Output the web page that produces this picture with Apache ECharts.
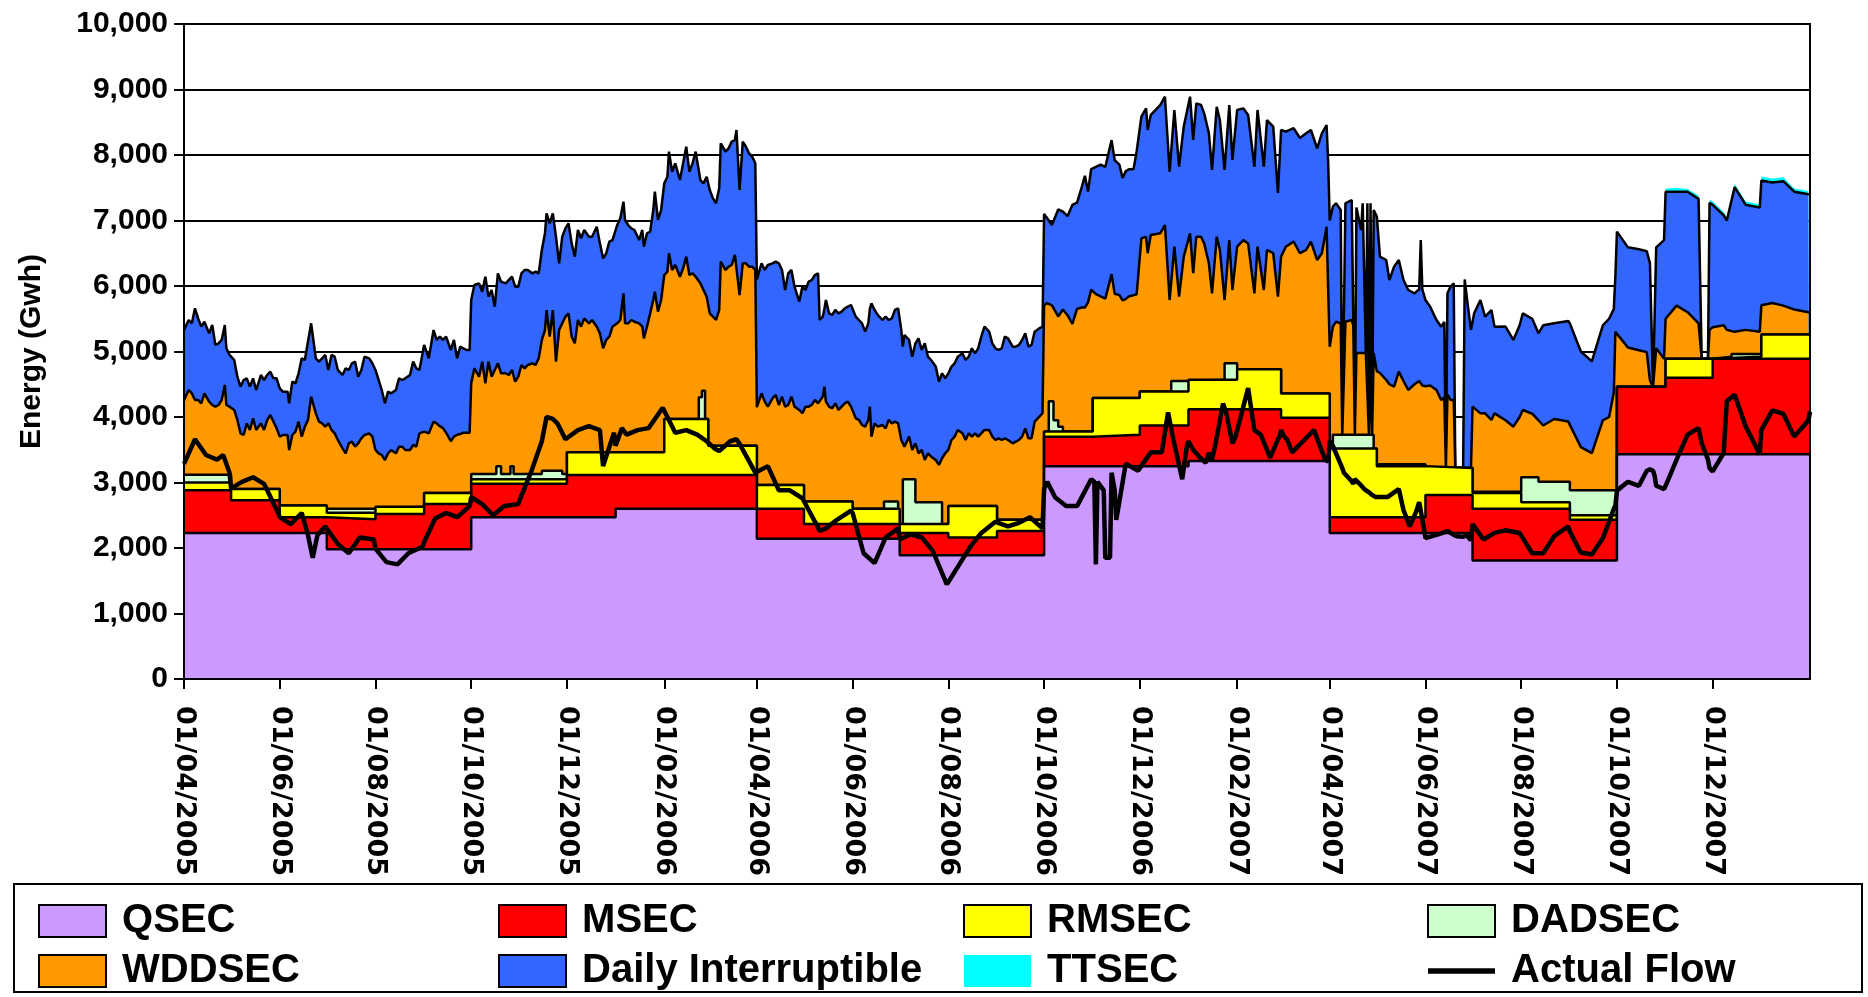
<!DOCTYPE html>
<html>
<head>
<meta charset="utf-8">
<title>Energy (Gwh)</title>
<script src="https://cdn.jsdelivr.net/npm/echarts@6.0.0/dist/echarts.min.js"></script>
<style>
  html, body { margin: 0; padding: 0; background: #fff; }
  #chart { width: 1868px; height: 997px; }
</style>
</head>
<body>
<div id="chart"></div>
<script>
// tick labels on the date axis, one every second month
const xTickLabels = ['01/04/2005', '01/06/2005', '01/08/2005', '01/10/2005', '01/12/2005',
  '01/02/2006', '01/04/2006', '01/06/2006', '01/08/2006', '01/10/2006', '01/12/2006',
  '01/02/2007', '01/04/2007', '01/06/2007', '01/08/2007', '01/10/2007', '01/12/2007'];

// all values below are the top edge of each band (Gwh)

// stepped bands: [date the level starts, level]
const qsecTop = [['2005-04-01', 2230], ['2005-07-01', 1980], ['2005-10-01', 2470], ['2006-01-01', 2600],
  ['2006-04-01', 2140], ['2006-07-01', 1890], ['2006-10-01', 3250], ['2007-01-01', 3330],
  ['2007-04-01', 2230], ['2007-07-01', 1810], ['2007-10-01', 3430], ['2008-02-01', 3430]];

const msecTop = [['2005-04-01', 2880], ['2005-05-01', 2730], ['2005-06-01', 2470], ['2005-07-01', 2440],
  ['2005-08-01', 2520], ['2005-09-01', 2670], ['2005-10-01', 2980], ['2005-12-01', 3115],
  ['2006-04-01', 2600], ['2006-05-01', 2365], ['2006-07-01', 2230], ['2006-08-01', 2160],
  ['2006-09-01', 2260], ['2006-10-01', 3700], ['2006-11-01', 3730], ['2006-12-01', 3870],
  ['2007-01-01', 4120], ['2007-03-01', 3990], ['2007-04-01', 2470], ['2007-06-01', 2810],
  ['2007-07-01', 2600], ['2007-09-01', 2430], ['2007-10-01', 4460], ['2007-11-01', 4600],
  ['2007-12-01', 4890], ['2008-02-01', 4890]];

const rmsecTop = [['2005-04-01', 3000], ['2005-05-01', 2900], ['2005-06-01', 2650], ['2005-07-01', 2540],
  ['2005-08-01', 2630], ['2005-09-01', 2840], ['2005-10-01', 3050], ['2005-12-01', 3460],
  ['2006-02-01', 3970], ['2006-03-01', 3560], ['2006-04-01', 2960], ['2006-05-01', 2710],
  ['2006-06-01', 2600], ['2006-07-01', 2365], ['2006-08-01', 2640], ['2006-09-01', 2430],
  ['2006-10-01', 3780], ['2006-11-01', 4290], ['2006-12-01', 4390], ['2007-01-01', 4570],
  ['2007-02-01', 4730], ['2007-03-01', 4360], ['2007-04-01', 3520], ['2007-05-01', 3250],
  ['2007-06-01', 3220], ['2007-07-01', 2840], ['2007-08-01', 2700], ['2007-09-01', 2500],
  ['2007-10-01', 4460], ['2007-11-01', 4890], ['2007-12-01', 4920], ['2008-01-01', 5260],
  ['2008-02-01', 5260]];

const dadsecTop = [['2005-04-01', 3120], ['2005-05-01', 2900], ['2005-06-01', 2650], ['2005-07-01', 2600],
  ['2005-08-01', 2630], ['2005-09-01', 2840], ['2005-10-01', 3130], ['2005-10-17', 3250],
  ['2005-10-20', 3130], ['2005-10-26', 3250], ['2005-10-28', 3130], ['2005-11-15', 3180],
  ['2005-11-28', 3130], ['2005-12-01', 3460], ['2006-02-01', 3970], ['2006-02-23', 4300],
  ['2006-02-25', 4400], ['2006-02-27', 3970], ['2006-03-01', 3560], ['2006-04-01', 2960],
  ['2006-05-01', 2710], ['2006-06-01', 2600], ['2006-06-21', 2710], ['2006-06-30', 2600],
  ['2006-07-01', 2365], ['2006-07-03', 3050], ['2006-07-11', 2700], ['2006-07-28', 2365],
  ['2006-08-01', 2640], ['2006-09-01', 2430], ['2006-10-01', 3780], ['2006-10-04', 4240],
  ['2006-10-07', 3950], ['2006-10-10', 3850], ['2006-10-13', 3780], ['2006-11-01', 4290],
  ['2006-12-01', 4390], ['2006-12-21', 4550], ['2007-01-01', 4570], ['2007-01-24', 4820],
  ['2007-02-01', 4730], ['2007-03-01', 4360], ['2007-04-01', 3520], ['2007-04-03', 3730],
  ['2007-04-29', 3520], ['2007-05-01', 3280], ['2007-06-01', 3220], ['2007-07-01', 2860],
  ['2007-08-01', 3080], ['2007-08-12', 3010], ['2007-09-01', 2880], ['2007-10-01', 4460],
  ['2007-11-01', 4890], ['2007-12-01', 4920], ['2007-12-13', 4960], ['2008-01-01', 5260],
  ['2008-02-01', 5260]];

// WDDSEC and Daily Interruptible tops, sampled on these dates (one line per month)
const bandDays = [
  '2005-04-01','2005-04-02','2005-04-04','2005-04-06','2005-04-08','2005-04-10','2005-04-12','2005-04-14','2005-04-17','2005-04-19','2005-04-21','2005-04-23','2005-04-25','2005-04-27','2005-04-28','2005-04-30',
  '2005-05-03','2005-05-05','2005-05-07','2005-05-09','2005-05-11','2005-05-13','2005-05-15','2005-05-17','2005-05-20','2005-05-22','2005-05-24','2005-05-26','2005-05-28','2005-05-30',
  '2005-06-01','2005-06-03','2005-06-06','2005-06-07','2005-06-09','2005-06-11','2005-06-13','2005-06-15','2005-06-17','2005-06-19','2005-06-21','2005-06-24','2005-06-26','2005-06-28','2005-06-30',
  '2005-07-02','2005-07-04','2005-07-06','2005-07-08','2005-07-11','2005-07-13','2005-07-15','2005-07-17','2005-07-19','2005-07-21','2005-07-23','2005-07-25','2005-07-28','2005-07-30',
  '2005-08-01','2005-08-03','2005-08-05','2005-08-07','2005-08-09','2005-08-11','2005-08-14','2005-08-16','2005-08-18','2005-08-20','2005-08-23','2005-08-25','2005-08-27','2005-08-29',
  '2005-09-01','2005-09-04','2005-09-07','2005-09-09','2005-09-11','2005-09-13','2005-09-15','2005-09-18','2005-09-20','2005-09-22','2005-09-24','2005-09-26','2005-09-28','2005-09-30',
  '2005-10-01','2005-10-03','2005-10-06','2005-10-08','2005-10-10','2005-10-12','2005-10-14','2005-10-16','2005-10-18','2005-10-20','2005-10-23','2005-10-25','2005-10-27','2005-10-29','2005-10-31',
  '2005-11-02','2005-11-04','2005-11-06','2005-11-09','2005-11-11','2005-11-13','2005-11-15','2005-11-17','2005-11-18','2005-11-20','2005-11-22','2005-11-24','2005-11-26','2005-11-28','2005-11-30',
  '2005-12-02','2005-12-04','2005-12-06','2005-12-08','2005-12-10','2005-12-12','2005-12-15','2005-12-17','2005-12-20','2005-12-22','2005-12-24','2005-12-26','2005-12-28','2005-12-30',
  '2006-01-02','2006-01-04','2006-01-06','2006-01-07','2006-01-09','2006-01-11','2006-01-13','2006-01-16','2006-01-18','2006-01-19','2006-01-21','2006-01-23','2006-01-25','2006-01-26','2006-01-28','2006-01-30',
  '2006-02-01','2006-02-03','2006-02-04','2006-02-06','2006-02-08','2006-02-11','2006-02-13','2006-02-15','2006-02-17','2006-02-19','2006-02-21','2006-02-24','2006-02-26','2006-02-28',
  '2006-03-02','2006-03-04','2006-03-06','2006-03-08','2006-03-09','2006-03-12','2006-03-14','2006-03-16','2006-03-18','2006-03-19','2006-03-21','2006-03-23','2006-03-25','2006-03-27','2006-03-29','2006-03-31',
  '2006-04-01','2006-04-02','2006-04-04','2006-04-06','2006-04-08','2006-04-11','2006-04-13','2006-04-15','2006-04-17','2006-04-19','2006-04-21','2006-04-23','2006-04-25','2006-04-28','2006-04-30',
  '2006-05-02','2006-05-04','2006-05-06','2006-05-08','2006-05-10','2006-05-11','2006-05-13','2006-05-14','2006-05-15','2006-05-17','2006-05-19','2006-05-21','2006-05-23','2006-05-25','2006-05-27','2006-05-29','2006-05-31',
  '2006-06-03','2006-06-05','2006-06-07','2006-06-09','2006-06-11','2006-06-12','2006-06-13','2006-06-15','2006-06-17','2006-06-20','2006-06-22','2006-06-24','2006-06-26','2006-06-28','2006-06-30',
  '2006-07-02','2006-07-03','2006-07-04','2006-07-07','2006-07-09','2006-07-11','2006-07-13','2006-07-15','2006-07-17','2006-07-19','2006-07-21','2006-07-24','2006-07-26','2006-07-28','2006-07-30',
  '2006-08-01','2006-08-03','2006-08-05','2006-08-07','2006-08-10','2006-08-12','2006-08-14','2006-08-16','2006-08-18','2006-08-20','2006-08-22','2006-08-24','2006-08-27','2006-08-29','2006-08-31',
  '2006-09-02','2006-09-04','2006-09-06','2006-09-08','2006-09-11','2006-09-13','2006-09-15','2006-09-17','2006-09-19','2006-09-21','2006-09-23','2006-09-25','2006-09-28','2006-09-30',
  '2006-10-01','2006-10-03','2006-10-06','2006-10-10','2006-10-13','2006-10-16','2006-10-19','2006-10-22','2006-10-25','2006-10-27','2006-10-29','2006-10-31',
  '2006-11-03','2006-11-06','2006-11-09','2006-11-13','2006-11-15','2006-11-18','2006-11-20','2006-11-22','2006-11-24','2006-11-27','2006-11-29',
  '2006-12-02','2006-12-05','2006-12-06','2006-12-08','2006-12-14','2006-12-17','2006-12-20','2006-12-23','2006-12-26','2006-12-29',
  '2007-01-02','2007-01-04','2007-01-06','2007-01-09','2007-01-11','2007-01-14','2007-01-16','2007-01-19','2007-01-21','2007-01-24','2007-01-27','2007-01-29',
  '2007-02-01','2007-02-05','2007-02-08','2007-02-12','2007-02-14','2007-02-18','2007-02-20','2007-02-24','2007-02-27',
  '2007-03-01','2007-03-04','2007-03-09','2007-03-13','2007-03-17','2007-03-20','2007-03-24','2007-03-27','2007-03-30','2007-03-31',
  '2007-04-01','2007-04-03','2007-04-05','2007-04-08','2007-04-09','2007-04-10','2007-04-11','2007-04-15','2007-04-16','2007-04-17','2007-04-18','2007-04-21','2007-04-22','2007-04-24','2007-04-25','2007-04-26','2007-04-27','2007-04-28','2007-04-29',
  '2007-05-01','2007-05-03','2007-05-07','2007-05-09','2007-05-12','2007-05-15','2007-05-18','2007-05-21','2007-05-25','2007-05-28','2007-05-29','2007-05-30',
  '2007-06-01','2007-06-04','2007-06-08','2007-06-11','2007-06-13','2007-06-14','2007-06-15','2007-06-17','2007-06-19','2007-06-20','2007-06-25','2007-06-26','2007-06-28','2007-06-30',
  '2007-07-01','2007-07-02','2007-07-06','2007-07-09','2007-07-13','2007-07-15','2007-07-22','2007-07-27','2007-07-31',
  '2007-08-02','2007-08-08','2007-08-12','2007-08-15','2007-08-22','2007-08-31',
  '2007-09-01','2007-09-08','2007-09-15','2007-09-22','2007-09-26','2007-09-29','2007-09-30',
  '2007-10-01','2007-10-08','2007-10-15','2007-10-20','2007-10-22','2007-10-24','2007-10-25','2007-10-26','2007-10-31',
  '2007-11-01','2007-11-08','2007-11-15','2007-11-22','2007-11-23','2007-11-24','2007-11-28','2007-11-29','2007-11-30',
  '2007-12-01','2007-12-08','2007-12-10','2007-12-15','2007-12-22','2007-12-31',
  '2008-01-01','2008-01-08','2008-01-15','2008-01-22','2008-01-31',
  '2008-02-01'
];

const interruptibleTop = [
  5330, 5328, 5481, 5430, 5659, 5506, 5379, 5455, 5277, 5405, 5099, 5125, 5176, 5405, 5049, 4947,
  4870, 4616, 4463, 4565, 4590, 4463, 4590, 4412, 4641, 4565, 4641, 4692, 4590, 4590,
  4438, 4387, 4387, 4209, 4540, 4514, 4667, 4896, 4870, 5150, 5430, 4896, 4845, 4896, 4947,
  4718, 4947, 4921, 4718, 4641, 4743, 4718, 4820, 4845, 4616, 4718, 4921, 4896, 4820,
  4718, 4565, 4412, 4209, 4387, 4361, 4412, 4590, 4565, 4590, 4641, 4845, 4743, 4718,
  5099, 4896, 5328, 5176, 5226, 5176, 5226, 5023, 5176, 4896, 5074, 5049, 5023, 5023,
  5786, 6015, 6041, 5913, 6142, 5837, 5939, 5684, 6193, 6066, 6041, 6092, 6142, 5990, 5990,
  6193, 6244, 6244, 6193, 6219, 6193, 6550, 6804, 7109, 6957, 7109, 6753, 6346, 6753, 6880,
  6957, 6651, 6448, 6855, 6728, 6855, 6753, 6753, 6906, 6651, 6422, 6499, 6677, 6702,
  6931, 7033, 7287, 7008, 6931, 6880, 6855, 6702, 6855, 6600, 6804, 6830, 7160, 7440, 7008, 7160,
  7567, 7669, 8051, 7745, 7873, 7618, 7873, 8127, 7745, 7873, 8051, 7618, 7567, 7669,
  7466, 7338, 7262, 7491, 8178, 8051, 8102, 8204, 8229, 8382, 7466, 8204, 8127, 8025, 7975, 7873,
  6100, 6117, 6346, 6245, 6321, 6346, 6372, 6346, 6245, 5939, 6194, 6245, 5990, 5761, 5990,
  5939, 6066, 6092, 6168, 6194, 5481, 5532, 5650, 5787, 5583, 5558, 5634, 5583, 5608, 5659, 5685, 5710,
  5532, 5481, 5430, 5303, 5430, 5650, 5736, 5634, 5558, 5481, 5532, 5481, 5507, 5634, 5659,
  5329, 5074, 5252, 5176, 4921, 5125, 5201, 5023, 5125, 4921, 4870, 4769, 4540, 4667, 4591,
  4667, 4769, 4820, 4921, 4972, 4870, 4921, 5049, 4972, 5049, 5227, 5380, 5303, 5125, 5049,
  5023, 5049, 5227, 5201, 5074, 5074, 5100, 5176, 5278, 5074, 5100, 5303, 5354, 5380,
  7100, 7034, 6932, 7170, 7136, 7068, 7238, 7273, 7511, 7682, 7443, 7784,
  7818, 7852, 7818, 8227, 7920, 7852, 7648, 7750, 7784, 7784, 8057,
  8585, 8712, 8382, 8611, 8763, 8890, 7745, 8687, 7821, 8435,
  8890, 8230, 8788, 8763, 8636, 8331, 7771, 8737, 8534, 7771, 8763, 7924,
  8687, 8712, 8611, 7821, 8687, 7821, 8534, 8432, 7420,
  8382, 8356, 8410, 8260, 8331, 8382, 8100, 8331, 8458, 7900,
  7000, 7211, 7262, 7160, 3730, 3730, 7262, 7313, 7300, 3730, 7200, 6855, 7262, 4977, 7262, 3730, 7262, 3730, 7160,
  7059, 6448, 6397, 6092, 6295, 6397, 6092, 5939, 5888, 5950, 6702, 5950,
  5786, 5684, 5481, 5379, 5450, 3220, 5888, 5990, 6040, 3220, 3220, 6100, 5700, 5330,
  5330, 5582, 5786, 5531, 5633, 5379, 5380, 5176, 5400,
  5582, 5500, 5278, 5400, 5430, 5466,
  5430, 5000, 4850, 5400, 5500, 5650, 6150,
  6830, 6590, 6560, 6530, 6350, 4460, 4460, 6590, 6700,
  7440, 7440, 7440, 7330, 7300, 4890, 4890, 7270, 7270,
  7240, 7080, 7000, 7510, 7240, 7200,
  7610, 7580, 7600, 7440, 7400,
  7400
];

const wddsecTop = [
  4250, 4310, 4412, 4361, 4260, 4260, 4209, 4361, 4234, 4183, 4158, 4183, 4260, 4489, 4183, 4158,
  4107, 3954, 3751, 3725, 3904, 3802, 3980, 3802, 3904, 3802, 3954, 4031, 3929, 3827,
  3700, 3725, 3725, 3496, 3725, 3776, 3929, 3700, 3853, 3954, 4310, 4056, 3929, 3904, 3853,
  3904, 3802, 3751, 3649, 3522, 3445, 3598, 3624, 3547, 3598, 3674, 3725, 3751, 3700,
  3496, 3445, 3420, 3344, 3445, 3496, 3445, 3547, 3547, 3496, 3496, 3573, 3547, 3751,
  3776, 3751, 3929, 3900, 3860, 3830, 3760, 3630, 3700, 3730, 3740, 3760, 3760, 3760,
  4514, 4743, 4616, 4845, 4514, 4845, 4616, 4718, 4819, 4667, 4667, 4641, 4718, 4540, 4616,
  4794, 4743, 4794, 4819, 4794, 4896, 5176, 5328, 5633, 5226, 5633, 4845, 5328, 5430, 5531,
  5582, 5226, 5125, 5481, 5379, 5506, 5430, 5481, 5379, 5277, 5049, 5176, 5226, 5379,
  5430, 5481, 5888, 5430, 5430, 5481, 5455, 5430, 5379, 5201, 5379, 5582, 5786, 5913, 5608, 5786,
  6168, 6219, 6499, 6244, 6321, 6142, 6270, 6448, 6168, 6193, 6142, 6041, 5939, 5837,
  5582, 5531, 5481, 5633, 6372, 6244, 6295, 6321, 6474, 6499, 5862, 6346, 6346, 6295, 6295, 6244,
  4150, 4158, 4362, 4235, 4158, 4286, 4337, 4184, 4311, 4158, 4184, 4311, 4158, 4108, 4057,
  4158, 4158, 4184, 4260, 4209, 4209, 4311, 4464, 4235, 4158, 4133, 4209, 4108, 4158, 4209, 4235, 4158,
  3980, 3955, 3878, 3853, 3955, 4158, 3700, 3904, 3853, 3878, 3827, 3955, 3904, 3929, 3904,
  3649, 3600, 3548, 3700, 3497, 3598, 3446, 3497, 3344, 3446, 3395, 3344, 3268, 3370, 3446,
  3497, 3649, 3700, 3802, 3751, 3649, 3751, 3700, 3751, 3700, 3751, 3802, 3802, 3700, 3649,
  3675, 3649, 3675, 3649, 3598, 3624, 3649, 3700, 3827, 3675, 3675, 3929, 4006, 4057,
  5705, 5739, 5705, 5535, 5640, 5550, 5420, 5650, 5671, 5671, 5750, 5944,
  5875, 5841, 5807, 6182, 5880, 5860, 5780, 5800, 5841, 5860, 5875,
  6728, 6750, 6500, 6780, 6805, 6931, 5786, 6600, 5837, 6448,
  6805, 6195, 6753, 6753, 6650, 6347, 5888, 6753, 6550, 5786, 6702, 5939,
  6600, 6700, 6650, 5888, 6600, 5939, 6550, 6500, 5837,
  6448, 6600, 6677, 6500, 6550, 6677, 6397, 6500, 6906, 5950,
  5073, 5379, 5455, 5430, 3730, 3730, 5455, 5481, 5400, 3730, 4977, 4977, 4977, 4977, 4977, 3730, 4977, 3730, 4977,
  4700, 4672, 4565, 4500, 4463, 4692, 4550, 4412, 4500, 4550, 4550, 4480,
  4470, 4480, 4412, 4260, 4300, 3220, 4340, 4260, 4260, 3220, 3220, 3220, 3220, 3220,
  4158, 4158, 4056, 4056, 3954, 4056, 3950, 3852, 4000,
  4107, 4050, 3950, 3870, 3970, 3930,
  3880, 3540, 3450, 3950, 4000, 4375, 5300,
  5330, 5060, 5020, 4990, 4560, 4460, 4460, 5050, 4890,
  5500, 5700, 5600, 5430, 5400, 4890, 4890, 5330, 5330,
  5370, 5400, 5330, 5300, 5330, 5300,
  5705, 5740, 5700, 5640, 5600,
  5600
];

// actual flow, sampled on these dates (one line per month)
const flowDays = [
  '2005-04-01','2005-04-08','2005-04-15','2005-04-22','2005-04-26','2005-04-30',
  '2005-05-01','2005-05-08','2005-05-15','2005-05-22','2005-05-31',
  '2005-06-01','2005-06-08','2005-06-15','2005-06-19','2005-06-22','2005-06-25','2005-06-30',
  '2005-07-01','2005-07-08','2005-07-15','2005-07-22','2005-07-31',
  '2005-08-01','2005-08-08','2005-08-15','2005-08-22','2005-08-31',
  '2005-09-01','2005-09-08','2005-09-15','2005-09-22','2005-09-30',
  '2005-10-01','2005-10-08','2005-10-15','2005-10-22','2005-10-31',
  '2005-11-01','2005-11-08','2005-11-15','2005-11-18','2005-11-22','2005-11-25','2005-11-30',
  '2005-12-01','2005-12-08','2005-12-15','2005-12-22','2005-12-24','2005-12-31',
  '2006-01-01','2006-01-05','2006-01-08','2006-01-15','2006-01-22','2006-01-31',
  '2006-02-01','2006-02-08','2006-02-15','2006-02-22','2006-02-28',
  '2006-03-01','2006-03-05','2006-03-08','2006-03-15','2006-03-19','2006-03-21','2006-03-22','2006-03-31',
  '2006-04-01','2006-04-08','2006-04-15','2006-04-22','2006-04-30',
  '2006-05-01','2006-05-08','2006-05-09','2006-05-11','2006-05-15','2006-05-22','2006-05-31',
  '2006-06-01','2006-06-08','2006-06-15','2006-06-22','2006-06-30',
  '2006-07-01','2006-07-08','2006-07-15','2006-07-22','2006-07-31',
  '2006-08-01','2006-08-08','2006-08-15','2006-08-22','2006-08-31',
  '2006-09-01','2006-09-08','2006-09-15','2006-09-22','2006-09-30',
  '2006-10-01','2006-10-03','2006-10-08','2006-10-15','2006-10-22','2006-10-31',
  '2006-11-01','2006-11-02','2006-11-03','2006-11-04','2006-11-08','2006-11-09','2006-11-12','2006-11-13','2006-11-15','2006-11-16','2006-11-22','2006-11-30',
  '2006-12-01','2006-12-08','2006-12-15','2006-12-19','2006-12-22','2006-12-28','2006-12-31',
  '2007-01-01','2007-01-04','2007-01-08','2007-01-12','2007-01-14','2007-01-16','2007-01-18','2007-01-23','2007-01-25','2007-01-29','2007-01-31',
  '2007-02-01','2007-02-08','2007-02-12','2007-02-16','2007-02-19','2007-02-22','2007-02-27','2007-02-28',
  '2007-03-01','2007-03-03','2007-03-05','2007-03-08','2007-03-15','2007-03-22','2007-03-29','2007-03-31',
  '2007-04-01','2007-04-03','2007-04-09','2007-04-10','2007-04-11','2007-04-15','2007-04-16','2007-04-17','2007-04-20','2007-04-21','2007-04-23','2007-04-24','2007-04-26','2007-04-27','2007-04-28','2007-04-30',
  '2007-05-01','2007-05-08','2007-05-15','2007-05-18','2007-05-22','2007-05-26','2007-05-28','2007-05-31',
  '2007-06-01','2007-06-08','2007-06-12','2007-06-15','2007-06-16','2007-06-17','2007-06-19','2007-06-20','2007-06-21','2007-06-25','2007-06-26','2007-06-27','2007-06-28','2007-06-30',
  '2007-07-01','2007-07-08','2007-07-15','2007-07-22','2007-07-31',
  '2007-08-01','2007-08-08','2007-08-15','2007-08-22','2007-08-31',
  '2007-09-01','2007-09-08','2007-09-15','2007-09-22','2007-09-26','2007-09-29','2007-09-30',
  '2007-10-01','2007-10-08','2007-10-15','2007-10-20','2007-10-22','2007-10-24','2007-10-25','2007-10-26','2007-10-31',
  '2007-11-01','2007-11-08','2007-11-15','2007-11-22','2007-11-23','2007-11-24','2007-11-28','2007-11-29','2007-11-30',
  '2007-12-01','2007-12-08','2007-12-10','2007-12-15','2007-12-22','2007-12-31',
  '2008-01-01','2008-01-08','2008-01-15','2008-01-22','2008-01-31',
  '2008-02-01'
];

const actualFlow = [
  3285, 3660, 3420, 3350, 3420, 3150,
  2910, 3010, 3080, 2980, 2535,
  2470, 2365, 2535, 2195, 1850, 2195, 2330,
  2300, 2060, 1920, 2160, 2130,
  1990, 1785, 1750, 1920, 2020,
  2090, 2450, 2535, 2470, 2640,
  2775, 2670, 2500, 2640, 2670,
  2740, 3150, 3630, 4000, 3970, 3900, 3660,
  3660, 3800, 3860, 3800, 3250, 3760,
  3560, 3830, 3730, 3800, 3830, 4140,
  4170, 3760, 3800, 3730, 3630,
  3630, 3520, 3480, 3630, 3660, 3590, 3560, 3150,
  3150, 3250, 2880, 2880, 2760,
  2775, 2400, 2365, 2260, 2300, 2430, 2570,
  2535, 1920, 1770, 2160, 2300,
  2130, 2210, 2160, 1960, 1445,
  1480, 1750, 2020, 2230, 2400,
  2400, 2330, 2385, 2470, 2300,
  2900, 3010, 2775, 2640, 2640, 3050,
  3080, 3010, 1750, 3010, 2880, 1850, 1850, 3150, 2880, 2430, 3285, 3180,
  3220, 3460, 3460, 4070, 3700, 3050, 3560,
  3630, 3500, 3390, 3300, 3450, 3350, 3560, 4205, 4070, 3600, 3700,
  3730, 4440, 3800, 3730, 3560, 3380, 3660, 3700,
  3800, 3700, 3650, 3460, 3630, 3800, 3350, 3320,
  3630, 3560, 3220, 3150, 3150, 3020, 2980, 3050, 2980, 2950, 2900, 2880, 2850, 2840, 2810, 2780,
  2800, 2780, 2900, 2580, 2330, 2550, 2700, 2300,
  2150, 2200, 2230, 2260, 2250, 2230, 2200, 2180, 2180, 2170, 2200, 2200, 2180, 2120,
  2365, 2130, 2230, 2270, 2230,
  2200, 1920, 1920, 2180, 2330,
  2250, 1930, 1900, 2150, 2400, 2600, 2650,
  2876, 3010, 2950, 3180, 3200, 3180, 3100, 2950, 2900,
  2950, 3350, 3730, 3830, 3830, 3600, 3350, 3220, 3220,
  3170, 3450, 4240, 4340, 3860, 3430,
  3800, 4100, 4050, 3700, 3950,
  4080
];

// TTSEC only shows above the interruptible band from November 2007
const ttsecDays = ['2007-11-01','2007-11-08','2007-11-15','2007-11-22','2007-11-23','2007-11-24','2007-11-28',
  '2007-11-29','2007-11-30','2007-12-01','2007-12-08','2007-12-10','2007-12-15','2007-12-22','2007-12-31',
  '2008-01-01','2008-01-08','2008-01-15','2008-01-22','2008-01-31','2008-02-01'];
const ttsecTop = [7490, 7500, 7480, 7380, 7350, 4890, 4890, 7320, 7330, 7290, 7130, 7050, 7560, 7290, 7250,
  7670, 7640, 7660, 7490, 7450, 7450];

const colors = {
  'QSEC': '#CC99FF',
  'MSEC': '#FF0000',
  'RMSEC': '#FFFF00',
  'DADSEC': '#CCFFCC',
  'WDDSEC': '#FF9900',
  'Daily Interruptible': '#3366FF',
  'TTSEC': '#00FFFF'
};

function pad(n) { return n < 10 ? '0' + n : '' + n; }
// 'YYYY-MM-DD' -> local timestamp
function isoToTime(s) {
  const p = s.split('-');
  return new Date(+p[0], +p[1] - 1, +p[2]).getTime();
}
// 'DD/MM/YYYY' -> local timestamp
function labelToTime(s) {
  const p = s.split('/');
  return new Date(+p[2], +p[1] - 1, +p[0]).getTime();
}
const tickTimes = xTickLabels.map(labelToTime);

function withDays(dates, values) {
  return dates.map((d, i) => [isoToTime(d), values[i]]);
}
function steps(pairs) {
  return pairs.map(p => [isoToTime(p[0]), p[1]]);
}

function band(name, data, z, stepped, lineWidth) {
  return {
    name: name,
    type: 'line',
    data: data,
    z: z,
    step: stepped ? 'end' : false,
    symbol: 'none',
    showSymbol: false,
    silent: true,
    lineStyle: { color: '#000', width: lineWidth, opacity: lineWidth ? 1 : 0 },
    areaStyle: { color: colors[name], opacity: 1 },
    itemStyle: { color: colors[name] }
  };
}

const legendText = {
  fontFamily: "'Liberation Sans', Arial, sans-serif",
  fontWeight: 'bold',
  fontSize: 40,
  lineHeight: 40,
  color: '#000'
};

function legendItem(name) {
  if (name === 'Actual Flow') {
    return { name: name, icon: 'path://M0,0H60V5H0Z', itemStyle: { color: '#000', borderWidth: 0 } };
  }
  return {
    name: name,
    icon: 'rect',
    itemStyle: { color: colors[name], borderColor: '#000', borderWidth: name === 'TTSEC' ? 0 : 2 }
  };
}

function legendColumn(names, left) {
  return {
    orient: 'vertical',
    left: left,
    top: 901,
    height: 150,
    itemWidth: 67,
    itemHeight: 32,
    itemGap: 10,
    padding: 0,
    selectedMode: false,
    formatter: (n) => ' ' + n,
    textStyle: legendText,
    data: names.map(legendItem)
  };
}

const chart = echarts.init(document.getElementById('chart'), null, { renderer: 'canvas' });

const option = {
  animation: false,
  backgroundColor: '#fff',
  grid: { left: 184, top: 24, width: 1626, height: 655, outerBoundsMode: 'none' },
  xAxis: {
    type: 'value',
    min: isoToTime('2005-04-01'),
    max: isoToTime('2008-02-01'),
    axisLine: { show: true, lineStyle: { color: '#000', width: 2 } },
    axisTick: { show: true, customValues: tickTimes, length: 10, lineStyle: { color: '#000', width: 2 } },
    splitLine: { show: false },
    axisLabel: {
      customValues: tickTimes,
      rotate: -90,
      margin: 27,
      color: '#000',
      fontFamily: "'DejaVu Sans', sans-serif",
      fontWeight: 'bold',
      fontSize: 27,
      formatter: function (v) {
        const d = new Date(v);
        return pad(d.getDate()) + '/' + pad(d.getMonth() + 1) + '/' + d.getFullYear();
      }
    }
  },
  yAxis: {
    type: 'value',
    min: 0,
    max: 10000,
    interval: 1000,
    name: 'Energy (Gwh)',
    nameLocation: 'middle',
    nameRotate: 90,
    nameGap: 137,
    nameTextStyle: { fontFamily: "'Liberation Sans', Arial, sans-serif", fontWeight: 'bold', fontSize: 30, color: '#000' },
    axisLine: { show: true, lineStyle: { color: '#000', width: 2 } },
    axisTick: { show: true, length: 10, lineStyle: { color: '#000', width: 2 } },
    splitLine: { show: true, lineStyle: { color: '#000', width: 2 } },
    axisLabel: {
      margin: 16,
      color: '#000',
      fontFamily: "'Liberation Sans', Arial, sans-serif",
      fontWeight: 'bold',
      fontSize: 30,
      formatter: (v) => String(v).replace(/\B(?=(\d{3})+(?!\d))/g, ',')
    }
  },
  legend: [
    legendColumn(['QSEC', 'WDDSEC'], 38),
    legendColumn(['MSEC', 'Daily Interruptible'], 498),
    legendColumn(['RMSEC', 'TTSEC'], 963),
    legendColumn(['DADSEC', 'Actual Flow'], 1427)
  ],
  graphic: [
    { type: 'rect', z: 100, silent: true, shape: { x: 184, y: 24, width: 1626, height: 655 },
      style: { fill: 'none', stroke: '#000', lineWidth: 2 } },
    { type: 'rect', z: 100, silent: true, shape: { x: 14, y: 884, width: 1848, height: 108 },
      style: { fill: 'none', stroke: '#000', lineWidth: 2 } }
  ],
  series: [
    band('QSEC', steps(qsecTop), 8, true, 2.5),
    band('MSEC', steps(msecTop), 7, true, 2.5),
    band('RMSEC', steps(rmsecTop), 6, true, 2.5),
    band('DADSEC', steps(dadsecTop), 5, true, 2.5),
    band('WDDSEC', withDays(bandDays, wddsecTop), 4, false, 2.5),
    band('Daily Interruptible', withDays(bandDays, interruptibleTop), 3, false, 2.5),
    band('TTSEC', withDays(ttsecDays, ttsecTop), 2, false, 0),
    {
      name: 'Actual Flow',
      type: 'line',
      data: withDays(flowDays, actualFlow),
      z: 9,
      symbol: 'none',
      showSymbol: false,
      silent: true,
      lineStyle: { color: '#000', width: 4.5 },
      itemStyle: { color: '#000' }
    }
  ]
};

chart.setOption(option);
</script>
</body>
</html>
